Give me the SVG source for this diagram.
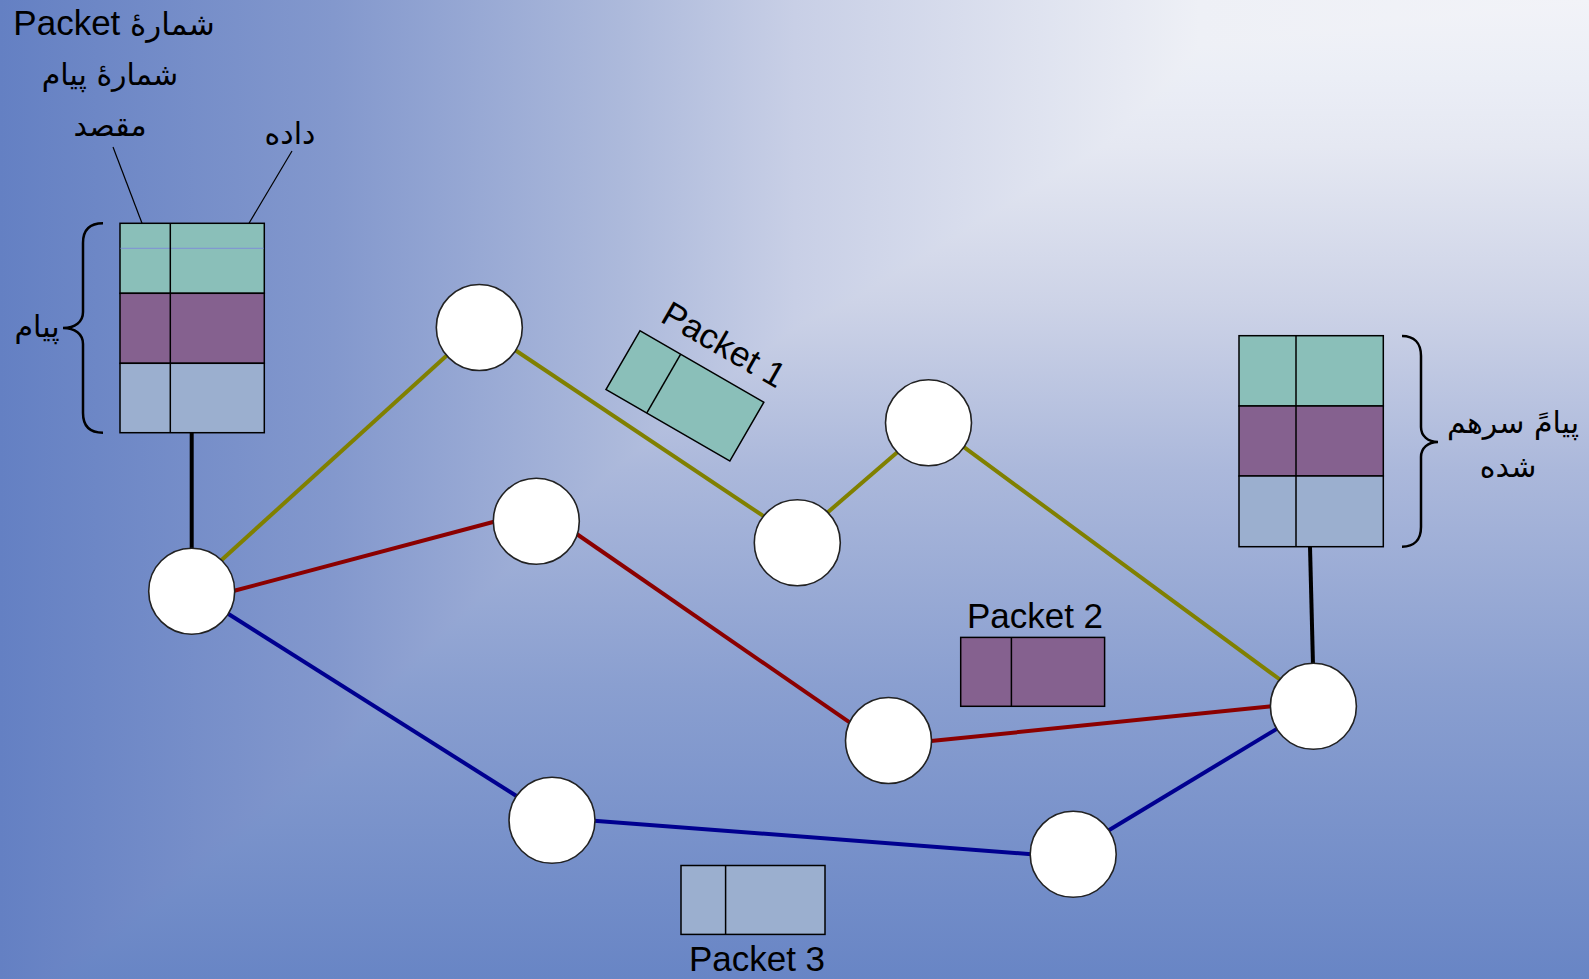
<svg xmlns="http://www.w3.org/2000/svg" width="1589" height="979" viewBox="0 0 1589 979">
<style>
.t{font-family:"Liberation Sans","DejaVu Sans",sans-serif;font-size:35px;fill:#000}
.p{font-family:"Liberation Sans",sans-serif;font-size:35px;fill:#000}
.ar{font-family:"DejaVu Sans","Liberation Sans",sans-serif;font-size:30px;fill:#000}
.node{fill:#fff;stroke:#222;stroke-width:1.6}
.cell{stroke:#000;stroke-width:1.5}
.teal{fill:#8ABFB9}
.purp{fill:#85618F}
.gray{fill:#9BAFCF}
.ol{stroke:#808000;stroke-width:4;fill:none}
.rd{stroke:#8B0000;stroke-width:4;fill:none}
.nv{stroke:#000090;stroke-width:4;fill:none}
.bk{stroke:#000;stroke-width:4;fill:none}
.brace{fill:none;stroke:#000;stroke-width:2.5}
.lead{stroke:#000;stroke-width:1.2}
</style>
<defs>
<linearGradient id="gx" x1="1589" y1="0" x2="0" y2="0" gradientUnits="userSpaceOnUse">
<stop offset="0" stop-color="#F2F3F8"/>
<stop offset="0.245" stop-color="#EEF0F6"/>
<stop offset="0.5" stop-color="#C8CFE6"/>
<stop offset="0.61" stop-color="#ACB9DB"/>
<stop offset="0.79" stop-color="#8398CD"/>
<stop offset="1" stop-color="#6480C3"/>
</linearGradient>
<linearGradient id="gy" x1="0" y1="0" x2="0" y2="979" gradientUnits="userSpaceOnUse">
<stop offset="0" stop-color="#F2F3F8"/>
<stop offset="0.08" stop-color="#EBEEF6"/>
<stop offset="0.15" stop-color="#E5E8F2"/>
<stop offset="0.31" stop-color="#CDD3E7"/>
<stop offset="0.48" stop-color="#ABB8DB"/>
<stop offset="0.7" stop-color="#8A9FD0"/>
<stop offset="1" stop-color="#6885C5"/>
</linearGradient>
</defs>
<g id="background" style="isolation:isolate">
<rect x="0" y="0" width="1589" height="979" fill="url(#gx)"/>
<rect x="0" y="0" width="1589" height="979" fill="url(#gy)" style="mix-blend-mode:darken"/>
</g>

<g id="connectors">
<line class="ol" x1="220.5" y1="561" x2="447.3" y2="355"/>
<line class="ol" x1="515" y1="350" x2="764.3" y2="516.7"/>
<line class="ol" x1="827.3" y1="512.7" x2="897.3" y2="452.3"/>
<line class="ol" x1="963.3" y1="446.7" x2="1282" y2="681"/>
<line class="rd" x1="233.3" y1="591" x2="494" y2="521.7"/>
<line class="rd" x1="576.7" y1="534" x2="850" y2="722.7"/>
<line class="rd" x1="931" y1="741" x2="1271.8" y2="706.3"/>
<line class="nv" x1="227.3" y1="613.3" x2="517.7" y2="796.7"/>
<line class="nv" x1="594" y1="820.7" x2="1031.6" y2="854.3"/>
<line class="nv" x1="1107.6" y1="831" x2="1278.9" y2="727.6"/>
<line class="bk" x1="191.7" y1="432.7" x2="191.7" y2="550"/>
<line class="bk" x1="1310" y1="546.7" x2="1313" y2="665"/>
<line class="lead" x1="113" y1="147" x2="142" y2="223.3"/>
<line class="lead" x1="292" y1="151" x2="249" y2="223.3"/>
</g>

<g id="node-A"><circle class="node" cx="191.7" cy="591.2" r="43"/></g>
<g id="node-B"><circle class="node" cx="479.3" cy="327.5" r="43"/></g>
<g id="node-C"><circle class="node" cx="536.3" cy="521.2" r="43"/></g>
<g id="node-D"><circle class="node" cx="797.3" cy="542.8" r="43"/></g>
<g id="node-E"><circle class="node" cx="928.5" cy="422.8" r="43"/></g>
<g id="node-F"><circle class="node" cx="888.5" cy="740.5" r="43"/></g>
<g id="node-G"><circle class="node" cx="552" cy="820.3" r="43"/></g>
<g id="node-H"><circle class="node" cx="1073.2" cy="854.3" r="43"/></g>
<g id="node-I"><circle class="node" cx="1313.4" cy="706.3" r="43"/></g>

<g id="message-stack">
<rect class="cell teal" x="120" y="223.3" width="144.3" height="70"/>
<line x1="120.5" y1="248.3" x2="263.5" y2="248.3" stroke="#7F90D6" stroke-width="1"/>
<rect class="cell purp" x="120" y="293.3" width="144.3" height="70"/>
<rect class="cell gray" x="120" y="363.3" width="144.3" height="69.4"/>
<line class="cell" x1="170.3" y1="223.3" x2="170.3" y2="432.7"/>
<path class="brace" d="M103,223.3 C90,223.3 83,230 83,243 L83,312 C83,322 75,328 63,328 C75,328 83,334 83,344 L83,413 C83,426 90,432.7 103,432.7"/>
<text class="ar" x="37" y="337" text-anchor="middle" direction="rtl">پیام</text>
</g>

<g id="header-labels">
<text class="t" x="114" y="35" text-anchor="middle" direction="rtl"><tspan style="font-family:'DejaVu Sans',sans-serif;font-size:31px">شمارهٔ</tspan> Packet</text>
<text class="ar" x="110" y="85" text-anchor="middle" direction="rtl">شمارهٔ پیام</text>
<text class="ar" x="110" y="136" text-anchor="middle" direction="rtl">مقصد</text>
<text class="ar" x="290" y="144" text-anchor="middle" direction="rtl">داده</text>
</g>

<g id="assembled-stack">
<rect class="cell teal" x="1239" y="335.7" width="144.3" height="70.3"/>
<rect class="cell purp" x="1239" y="406" width="144.3" height="70"/>
<rect class="cell gray" x="1239" y="476" width="144.3" height="70.7"/>
<line class="cell" x1="1296" y1="335.7" x2="1296" y2="546.7"/>
<path class="brace" d="M1402,336 C1414,336 1421,343 1421,356 L1421,427 C1421,436 1428,442 1438,442 C1428,442 1421,448 1421,457 L1421,527 C1421,540 1414,546.7 1402,546.7"/>
<text class="ar" x="1513" y="433" text-anchor="middle" direction="rtl">پیامً سرهم</text>
<text class="ar" x="1508" y="477" text-anchor="middle" direction="rtl">شده</text>
</g>

<g id="packet-1">
<g transform="translate(640,330.7) rotate(30)">
<rect class="cell teal" x="0" y="0" width="143" height="68"/>
<line class="cell" x1="47" y1="0" x2="47" y2="68"/>
</g>
<text class="p" x="718" y="355" text-anchor="middle" transform="rotate(30 718 355)">Packet 1</text>
</g>

<g id="packet-2">
<rect class="cell purp" x="960.7" y="637.4" width="143.9" height="68.9"/>
<line class="cell" x1="1011.4" y1="637.4" x2="1011.4" y2="706.3"/>
<text class="p" x="1035" y="628" text-anchor="middle">Packet 2</text>
</g>

<g id="packet-3">
<rect class="cell gray" x="681" y="865.5" width="144" height="68.9"/>
<line class="cell" x1="725.6" y1="865.5" x2="725.6" y2="934.4"/>
<text class="p" x="757" y="971" text-anchor="middle">Packet 3</text>
</g>
</svg>
